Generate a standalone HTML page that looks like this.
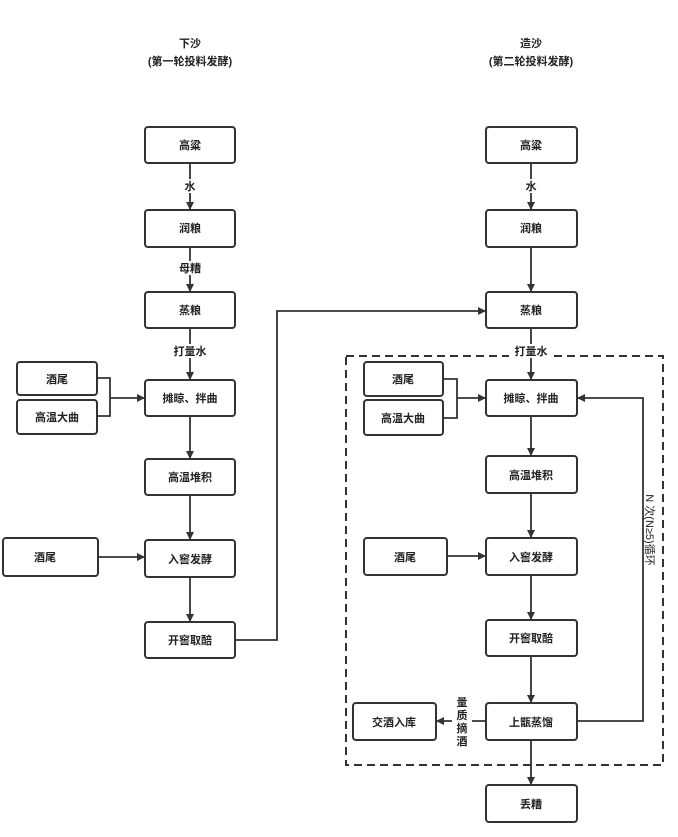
<!DOCTYPE html>
<html><head><meta charset="utf-8"><style>
body{margin:0;background:#fff;}
svg text{font-family:"Liberation Sans","Noto Sans CJK SC",sans-serif;font-size:11px;fill:#222;font-weight:bold;}
</style></head><body>
<svg width="678" height="832" viewBox="0 0 678 832" xmlns="http://www.w3.org/2000/svg">
<defs><marker id="a" markerWidth="8" markerHeight="8" refX="7" refY="4" orient="auto" markerUnits="userSpaceOnUse"><path d="M0,0 L8,4 L0,8 z" fill="#333"/></marker></defs>
<g stroke="#333" stroke-width="2" fill="#fff">
<rect x="145" y="127" width="90" height="36" rx="3"/>
<rect x="145" y="210" width="90" height="37" rx="3"/>
<rect x="145" y="292" width="90" height="36" rx="3"/>
<rect x="145" y="380" width="90" height="36" rx="3"/>
<rect x="145" y="459" width="90" height="36" rx="3"/>
<rect x="145" y="540" width="90" height="37" rx="3"/>
<rect x="145" y="622" width="90" height="36" rx="3"/>
<rect x="17" y="362" width="80" height="33" rx="3"/>
<rect x="17" y="400" width="80" height="34" rx="3"/>
<rect x="3" y="538" width="95" height="38" rx="3"/>
<rect x="486" y="127" width="91" height="36" rx="3"/>
<rect x="486" y="210" width="91" height="37" rx="3"/>
<rect x="486" y="292" width="91" height="36" rx="3"/>
<rect x="486" y="380" width="91" height="36" rx="3"/>
<rect x="486" y="456" width="91" height="37" rx="3"/>
<rect x="486" y="538" width="91" height="37" rx="3"/>
<rect x="486" y="620" width="91" height="36" rx="3"/>
<rect x="486" y="703" width="91" height="37" rx="3"/>
<rect x="486" y="785" width="91" height="37" rx="3"/>
<rect x="364" y="362" width="79" height="34" rx="3"/>
<rect x="364" y="400" width="79" height="35" rx="3"/>
<rect x="364" y="538" width="83" height="37" rx="3"/>
<rect x="353" y="703" width="83" height="37" rx="3"/>
</g>
<rect x="346" y="356" width="317" height="409" fill="none" stroke="#333" stroke-width="2" stroke-dasharray="8,5"/>
<g stroke="#333" stroke-width="1.8" fill="none">
<line x1="190" y1="163" x2="190" y2="209" marker-end="url(#a)"/>
<line x1="190" y1="247" x2="190" y2="291" marker-end="url(#a)"/>
<line x1="190" y1="328" x2="190" y2="379" marker-end="url(#a)"/>
<line x1="190" y1="416" x2="190" y2="458" marker-end="url(#a)"/>
<line x1="190" y1="495" x2="190" y2="539" marker-end="url(#a)"/>
<line x1="190" y1="577" x2="190" y2="621" marker-end="url(#a)"/>
<polyline points="97,378 110,378 110,416 97,416"/>
<line x1="110" y1="398" x2="144" y2="398" marker-end="url(#a)"/>
<line x1="98" y1="557" x2="144" y2="557" marker-end="url(#a)"/>
<polyline points="235,640 277,640 277,311 485,311" marker-end="url(#a)"/>
<line x1="531" y1="163" x2="531" y2="209" marker-end="url(#a)"/>
<line x1="531" y1="247" x2="531" y2="291" marker-end="url(#a)"/>
<line x1="531" y1="328" x2="531" y2="379" marker-end="url(#a)"/>
<line x1="531" y1="416" x2="531" y2="455" marker-end="url(#a)"/>
<line x1="531" y1="493" x2="531" y2="537" marker-end="url(#a)"/>
<line x1="531" y1="575" x2="531" y2="619" marker-end="url(#a)"/>
<line x1="531" y1="656" x2="531" y2="702" marker-end="url(#a)"/>
<line x1="531" y1="740" x2="531" y2="784" marker-end="url(#a)"/>
<polyline points="443,379 457,379 457,418 443,418"/>
<line x1="457" y1="398" x2="485" y2="398" marker-end="url(#a)"/>
<line x1="447" y1="556" x2="485" y2="556" marker-end="url(#a)"/>
<line x1="486" y1="721" x2="437" y2="721" marker-end="url(#a)"/>
<polyline points="577,721 643,721 643,398 578,398" marker-end="url(#a)"/>
</g>
<g text-anchor="middle">
<text x="190" y="47" font-size="13">下沙</text>
<text x="190" y="65" font-size="13">(第一轮投料发酵)</text>
<text x="531" y="47" font-size="13">造沙</text>
<text x="531" y="65" font-size="13">(第二轮投料发酵)</text>
<g fill="#fff" stroke="none">
<rect x="182" y="179" width="16" height="14"/><rect x="174" y="261" width="32" height="14"/><rect x="168" y="344" width="44" height="14"/>
<rect x="523" y="179" width="16" height="14"/><rect x="509" y="344" width="44" height="14"/><rect x="452" y="696" width="20" height="50"/>
</g>
<text x="190" y="190">水</text><text x="190" y="272">母糟</text><text x="190" y="355">打量水</text>
<text x="531" y="190">水</text><text x="531" y="355">打量水</text>
<text x="190" y="149">高粱</text><text x="190" y="232">润粮</text><text x="190" y="314">蒸粮</text>
<text x="190" y="402">摊晾、拌曲</text><text x="190" y="481">高温堆积</text><text x="190" y="563">入窖发酵</text><text x="190" y="644">开窖取醅</text>
<text x="57" y="383">酒尾</text><text x="57" y="421">高温大曲</text><text x="45" y="561">酒尾</text>
<text x="531" y="149">高粱</text><text x="531" y="232">润粮</text><text x="531" y="314">蒸粮</text>
<text x="531" y="402">摊晾、拌曲</text><text x="531" y="479">高温堆积</text><text x="531" y="561">入窖发酵</text><text x="531" y="642">开窖取醅</text>
<text x="531" y="726">上甑蒸馏</text><text x="531" y="808">丢糟</text>
<text x="403" y="383">酒尾</text><text x="403" y="422">高温大曲</text><text x="405" y="561">酒尾</text><text x="394" y="726">交酒入库</text>
<text x="462" y="706">量</text><text x="462" y="719">质</text><text x="462" y="732">摘</text><text x="462" y="745">酒</text>
</g>
<text x="646" y="530" text-anchor="middle" font-weight="normal" style="font-weight:normal" transform="rotate(90 646 530)">N 次(N≥5)循环</text>
</svg>
</body></html>
